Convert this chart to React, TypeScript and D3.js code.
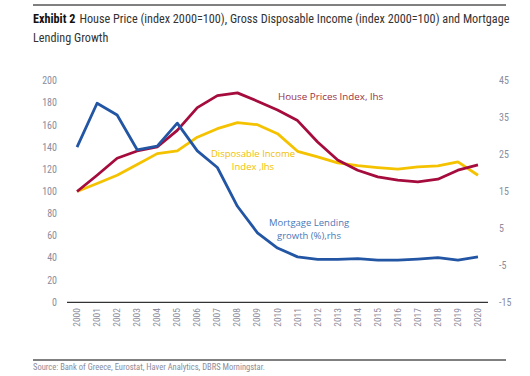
import React from "react";
import * as d3 from "d3";

const years = ["2000","2001","2002","2003","2004","2005","2006","2007","2008","2009","2010","2011","2012","2013","2014","2015","2016","2017","2018","2019","2020"];
const housePrices = [100,114.7,130,136.6,140.2,155.2,175.7,186.5,189,181.5,173.5,164,144.7,128.5,119.2,113.2,110.2,108.7,111.1,119.2,124];
const dispIncome = [100,107.2,114.7,124.3,134.2,136.6,149,156.7,162.1,160.3,152.2,136.3,131.2,125.8,123.4,121.6,120.1,122.2,123.1,126.7,114.7];
const mortgage = [27,38.9,35.7,26.3,27.3,33.5,26,21.5,11,3.8,-0.3,-2.7,-3.4,-3.4,-3.2,-3.6,-3.6,-3.3,-2.9,-3.6,-2.7];
const leftTicks = [0,20,40,60,80,100,120,140,160,180,200];
const rightTicks = [-15,-5,5,15,25,35,45];

const NARROW = "'Liberation Sans Narrow', 'Arial Narrow', 'Roboto Condensed', 'Liberation Sans', sans-serif";
const LABEL = "'Open Sans', 'Noto Sans', sans-serif";

export default function App() {
  const W = 530, H = 376;
  const x = d3.scaleBand<string>().domain(years).range([67, 488]);
  const yL = d3.scaleLinear().domain([0, 200]).range([302.3, 80.7]);
  const yR = d3.scaleLinear().domain([-15, 45]).range([302.3, 80.7]);
  const cx = (d: string) => (x(d) as number) + x.bandwidth() / 2;

  const lineL = d3.line<number>().x((_, i) => cx(years[i])).y(v => yL(v));
  const lineR = d3.line<number>().x((_, i) => cx(years[i])).y(v => yR(v));

  const tickColor = "#8c8c9c";

  return (
    <svg width={W} height={H} style={{ position: "absolute", left: 0, top: 0, background: "#fff" }}>
      <line x1={33} x2={506} y1={5} y2={5} stroke="#000" strokeWidth={1} />
      <text x={33} y={23} fontFamily={NARROW} fontSize={12.2} fill="#333">
        <tspan fontWeight="bold" fill="#111">Exhibit 2</tspan>
        <tspan dx={4}>House Price (index 2000=100), Gross Disposable Income (index 2000=100) and Mortgage</tspan>
      </text>
      <text x={33} y={42} fontFamily={NARROW} fontSize={12.2} fill="#333">Lending Growth</text>

      {leftTicks.map(t => (
        <text key={"l" + t} x={57} y={yL(t)} dy="0.35em" textAnchor="end" fontFamily={NARROW} fontSize={10} fill={tickColor}>{t}</text>
      ))}
      {rightTicks.map(t => (
        <text key={"r" + t} x={499} y={yR(t)} dy="0.35em" textAnchor="start" fontFamily={NARROW} fontSize={10} fill={tickColor}>{t}</text>
      ))}
      {years.map(y => (
        <text key={"x" + y} transform={`translate(${cx(y) + 3},308) rotate(-90)`} textAnchor="end" fontFamily={NARROW} fontSize={9.5} fill={tickColor}>{y}</text>
      ))}

      <line x1={67} x2={488} y1={302.3} y2={302.3} stroke="#000" strokeWidth={1} />

      <path d={lineL(dispIncome) || ""} fill="none" stroke="#F5C200" strokeWidth={2.8} strokeLinejoin="round" />
      <path d={lineL(housePrices) || ""} fill="none" stroke="#A50B3C" strokeWidth={2.8} strokeLinejoin="round" />
      <path d={lineR(mortgage) || ""} fill="none" stroke="#2255A4" strokeWidth={2.8} strokeLinejoin="round" />

      <text x={278} y={96.7} dy="0.35em" fontFamily={LABEL} fontSize={9.8} fill="#9C3040">House Prices Index, lhs</text>
      <text x={253} y={153.3} dy="0.35em" textAnchor="middle" fontFamily={LABEL} fontSize={9.5} fill="#F2C000">Disposable Income</text>
      <text x={253} y={166.7} dy="0.35em" textAnchor="middle" fontFamily={LABEL} fontSize={9.5} fill="#F2C000">Index ,lhs</text>
      <text x={309} y={222.3} dy="0.35em" textAnchor="middle" fontFamily={LABEL} fontSize={9.5} fill="#4A78B8">Mortgage Lending</text>
      <text x={309} y={235.7} dy="0.35em" textAnchor="middle" fontFamily={LABEL} fontSize={9.5} fill="#4A78B8">growth (%),rhs</text>

      <line x1={33} x2={506} y1={360} y2={360} stroke="#000" strokeWidth={1} />
      <text x={33} y={370} fontFamily={NARROW} fontSize={8.5} fill="#8c8c9c">Source: Bank of Greece, Eurostat, Haver Analytics, DBRS Morningstar.</text>
    </svg>
  );
}
